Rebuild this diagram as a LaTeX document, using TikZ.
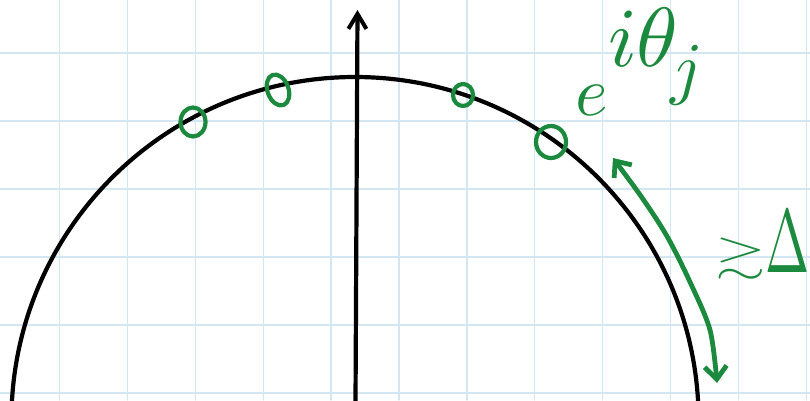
\documentclass[tikz,border=0pt]{standalone}
\usepackage{amssymb}
\usepackage{graphicx}
\usetikzlibrary{arrows.meta}
\definecolor{gridblue}{RGB}{210,231,242}
\definecolor{pen}{RGB}{28,138,62}
\begin{document}
\begin{tikzpicture}[x=1pt,y=-1pt,line cap=round,line join=round,
  gridline/.style={draw=gridblue,line width=1.3pt},
  ink/.style={draw=black,line width=4.2pt},
  marker/.style={draw=pen,line width=4.2pt},
  greenarrow/.style={draw=pen,line width=4.8pt,
     {Straight Barb[length=13pt,width=22pt,line width=4.8pt]}-{Straight Barb[length=13pt,width=22pt,line width=4.8pt]}},
  greentext/.style={text=pen,inner sep=0pt}]
\useasboundingbox (0,0) rectangle (810,400);
\fill[white] (0,0) rectangle (810,400);
\begin{scope}
\clip (0,0) rectangle (810,400);
\foreach \x in {59.5,127.4,195.3,263.2,331.1,399,466.9,534.8,602.7,670.6,738.5,806.4}
  \draw[gridline] (\x,0) -- (\x,400);
\foreach \y in {53,121,189,257,325,393}
  \draw[gridline] (0,\y) -- (810,\y);
% unit circle
\coordinate (O) at (355,420.6);
\draw[ink] (O) circle (343.6pt);
% vertical axis
\coordinate (axb) at (355.5,402);
\coordinate (axt) at (357.5,10);
\draw[ink,-{Straight Barb[length=15pt,width=18pt,line width=4pt]}] (axb) -- (axt);
% markers
\draw[marker] (193,122) ellipse (12.5pt and 14.5pt);
\draw[marker,rotate around={20:(278,90)}] (278,90) ellipse (10.5pt and 16pt);
\draw[marker] (463,95) ellipse (10pt and 11pt);
\draw[marker] (551,142) ellipse (15pt and 16pt);
% double arrow
\coordinate (dtop) at (613,158);
\coordinate (dbot) at (717,383);
\draw[greenarrow] plot[smooth,tension=0.5] coordinates
   {(dtop) (645,202) (668,238) (690,282) (710,330) (dbot)};
% labels
\node[greentext,scale=7,anchor=base west] (lab) at (574,115)
  {$e\raisebox{7pt}{\scalebox{1.2}{$i\theta$}}\kern-1.2pt\raisebox{3.4pt}{$j$}$};
\node[greentext,xscale=6.5,yscale=4.3,anchor=south west] (ge) at (714,280) {$\gtrsim$};
\node[greentext,xscale=5.3,yscale=9,anchor=base west] (gap) at (764,272) {$\Delta$};
\end{scope}
\end{tikzpicture}
\end{document}
